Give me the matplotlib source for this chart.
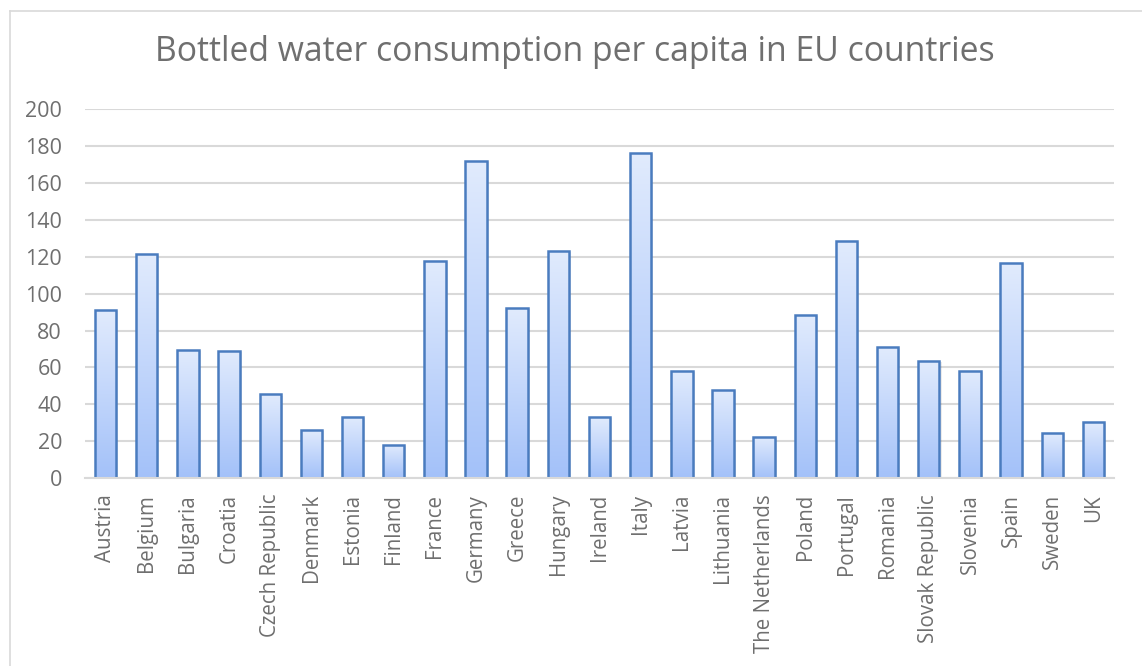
import matplotlib
matplotlib.use("Agg")
import matplotlib.pyplot as plt
import numpy as np
from matplotlib.colors import LinearSegmentedColormap
from matplotlib.lines import Line2D

countries = ["Austria", "Belgium", "Bulgaria", "Croatia", "Czech Republic", "Denmark",
             "Estonia", "Finland", "France", "Germany", "Greece", "Hungary", "Ireland",
             "Italy", "Latvia", "Lithuania", "The Netherlands", "Poland", "Portugal",
             "Romania", "Slovak Republic", "Slovenia", "Spain", "Sweden", "UK"]
consumption = [91.0, 121.3, 69.5, 69.0, 45.3, 25.9, 33.1, 18.1, 117.8, 171.9, 92.3, 123.2,
               33.0, 176.4, 58.1, 48.0, 22.5, 88.5, 128.7, 71.1, 63.4, 58.3, 116.6, 24.4, 30.2]
y_ticks = [0, 20, 40, 60, 80, 100, 120, 140, 160, 180, 200]
title = "Bottled water consumption per capita in EU countries"

plt.rcParams['font.family'] = ['Open Sans', 'DejaVu Sans']
W, H = 1142, 666
fig = plt.figure(figsize=(W / 100, H / 100), dpi=100)
ax = fig.add_axes([85 / W, 1 - 478 / H, (1114 - 85) / W, (478 - 109.3) / H])

text_color = "#6f6f6f"
grid_color = "#d9d9d9"
cmap = LinearSegmentedColormap.from_list("excel", ["#a3c1f9", "#e1ebfd"])
grad = np.linspace(0, 1, 256).reshape(-1, 1)

x = np.arange(len(countries))
width = 0.52
bars = ax.bar(x, consumption, width=width, facecolor="none", edgecolor="#4a7cbf",
              linewidth=1.8, zorder=4)
for rect in bars:
    bx, by = rect.get_x(), rect.get_y()
    bw, bh = rect.get_width(), rect.get_height()
    ax.add_patch(plt.Rectangle((bx + 0.03, by), bw + 0.02, bh - 0.6, facecolor="#000000",
                               alpha=0.08, edgecolor="none", zorder=2))
    im = ax.imshow(grad, extent=[bx, bx + bw, by, by + bh], origin="lower",
                   cmap=cmap, aspect="auto", zorder=3)
    im.set_clip_path(rect)

ax.set_xlim(-0.5, len(countries) - 0.5)
ax.set_ylim(0, 200)
ax.set_yticks(y_ticks)
ax.set_xticks(x)
ax.set_xticklabels(countries, rotation=90)
ax.yaxis.grid(True, color=grid_color, linewidth=1.5, zorder=0)
ax.set_axisbelow(True)
for s in ["top", "right", "left"]:
    ax.spines[s].set_visible(False)
ax.spines["bottom"].set_color(grid_color)
ax.spines["bottom"].set_linewidth(1.5)
ax.spines["bottom"].set_zorder(5)
ax.tick_params(axis="both", length=0, colors=text_color)
ax.tick_params(axis="y", pad=16.5, labelsize=15.5)
ax.tick_params(axis="x", pad=11.5, labelsize=14.8)

fig.text(575 / W, 1 - 52 / H, title, ha="center", va="center", fontsize=24.3,
         color=text_color)

fig.add_artist(Line2D([9.5 / W, 9.5 / W], [0, 1 - 10.5 / H], transform=fig.transFigure,
                      color="#d9d9d9", linewidth=1.2))
fig.add_artist(Line2D([9.5 / W, 1], [1 - 10.5 / H, 1 - 10.5 / H], transform=fig.transFigure,
                      color="#d9d9d9", linewidth=1.2))

fig.savefig("out.png", dpi=100)
